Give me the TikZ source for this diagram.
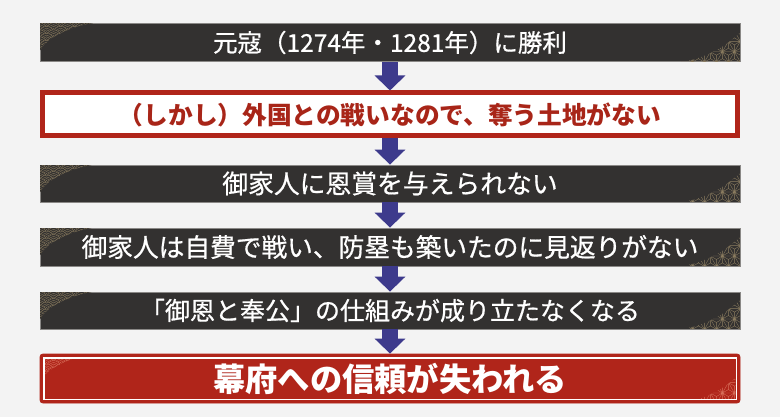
\documentclass[tikz,border=0pt]{standalone}
\usepackage{fontspec}
\setmainfont{Noto Sans CJK JP}
\newfontfamily\medfont{Noto Sans CJK JP}[FakeBold=0.7]
\usetikzlibrary{arrows.meta}
\definecolor{bg}{HTML}{F3F3F3}
\definecolor{darkbox}{HTML}{333130}
\definecolor{darkedge}{HTML}{8A8886}
\definecolor{redc}{HTML}{B0251A}
\definecolor{redtext}{HTML}{A82518}
\definecolor{arrowc}{HTML}{3D3A8C}
\definecolor{goldline}{HTML}{8C7D60}
\definecolor{pinkline}{HTML}{D8705C}
% #1 node, #2 inset, #3 line colour, #4 fill colour
\newcommand\seigaihaDeco[4]{%
  \begin{scope}[shift={(#1.north west)}]
    \clip (#2,#2) rectangle (100,60);
    \clip (0,0) -- (54,0) .. controls (30,4) and (8,14) .. (0,28) -- cycle;
    \foreach \j in {0,...,9} {
      \foreach \i in {0,...,4} {
        \pgfmathsetmacro\sgX{\i*14 + mod(\j,2)*7}
        \pgfmathsetmacro\sgY{\j*3.5}
        \fill[#4] (\sgX,\sgY) circle (7pt);
        \foreach \r in {7,5.25,3.5,1.75}
          \draw[#3, line width=0.35pt] (\sgX,\sgY) circle (\r pt);
      }
    }
  \end{scope}}
% #1 node, #2 inset, #3 line colour
\newcommand\asanohaDeco[3]{%
  \begin{scope}[shift={(#1.south east)}]
    \clip (-#2,-#2) rectangle (-100,-60);
    \clip (0,-30) .. controls (-14,-16) and (-34,-4) .. (-60,0) -- (0,0) -- cycle;
    \foreach \i in {-6,...,3} {
      \foreach \j in {-3,...,0} {
        \pgfmathsetmacro\pAx{12*\i+6*\j}
        \pgfmathsetmacro\pAy{10.392*\j}
        \pgfmathsetmacro\pBx{\pAx+12}
        \pgfmathsetmacro\pCx{\pAx+6}
        \pgfmathsetmacro\pCy{\pAy+10.392}
        \pgfmathsetmacro\pDx{\pAx+18}
        \pgfmathsetmacro\pGy{\pAy+3.464}
        \pgfmathsetmacro\pHx{\pAx+12}
        \pgfmathsetmacro\pHy{\pAy+6.928}
        \draw[#3, line width=0.35pt] (\pAx,\pAy) -- (\pBx,\pAy) -- (\pCx,\pCy) -- cycle
          (\pCx,\pGy) -- (\pAx,\pAy) (\pCx,\pGy) -- (\pBx,\pAy) (\pCx,\pGy) -- (\pCx,\pCy)
          (\pHx,\pHy) -- (\pBx,\pAy) (\pHx,\pHy) -- (\pCx,\pCy) (\pHx,\pHy) -- (\pDx,\pCy);
        \fill[#3, opacity=.5] (\pAx,\pAy) circle (1.3pt);
      }
    }
  \end{scope}}
\begin{document}
\begin{tikzpicture}[x=1pt,y=-1pt,
  darkbar/.style={draw=darkedge, line width=0.8pt, fill=darkbox,
    minimum width=700pt, text=white, inner sep=0pt},
  redframe/.style={draw=redc, line width=5pt, fill=white,
    minimum width=695pt, minimum height=43pt, text=redtext, inner sep=0pt,
    font=\fontsize{24.7}{29}\selectfont\bfseries},
  redbar/.style={draw=redc, line width=0.8pt, fill=redc, rounded corners=3pt,
    minimum width=700pt, minimum height=49pt, text=white, inner sep=0pt,
    font=\fontsize{32.3}{36}\selectfont\bfseries},
  flowarrow/.style={draw=arrowc, line width=16pt,
    -{Triangle[width=30pt,length=15pt]}}
]
\fill[bg] (0,0) rectangle (780,417);
\useasboundingbox (0,0) rectangle (780,417);

\node[darkbar, minimum height=38.5pt, font=\medfont\fontsize{24.5}{28}\selectfont] (b1) at (390,42.5) {元寇（1274年・1281年）に勝利};
\node[redframe] (b2) at (390,114.5) {（しかし）外国との戦いなので、奪う土地がない};
\node[darkbar, minimum height=37pt, font=\medfont\fontsize{25.8}{28}\selectfont] (b3) at (390,183.5) {御家人に恩賞を与えられない};
\node[darkbar, minimum height=38pt, font=\medfont\fontsize{25.7}{28}\selectfont] (b4) at (390,247) {御家人は自費で戦い、防塁も築いたのに見返りがない};
\node[darkbar, minimum height=37pt, font=\medfont\fontsize{25}{28}\selectfont] (b5) at (390,310.5) {「御恩と奉公」の仕組みが成り立たなくなる};
\node[redbar] (b6) at (390,378.5) {幕府への信頼が失われる};

\foreach \b in {b1,b3,b4,b5} {
  \seigaihaDeco{\b}{0.5}{goldline}{darkbox}
  \asanohaDeco{\b}{0.5}{goldline}
}
\seigaihaDeco{b6}{5}{pinkline}{redc}
\asanohaDeco{b6}{5}{pinkline}
\draw[white, line width=1.8pt]
  ([xshift=4pt,yshift=-4pt]b6.north west) rectangle ([xshift=-4pt,yshift=4pt]b6.south east);

\draw[flowarrow] (b1.south) -- (b2.north);
\draw[flowarrow] (b2.south) -- (b3.north);
\draw[flowarrow] (b3.south) -- (b4.north);
\draw[flowarrow] (b4.south) -- (b5.north);
\draw[flowarrow] (b5.south) -- (b6.north);
\end{tikzpicture}
\end{document}
